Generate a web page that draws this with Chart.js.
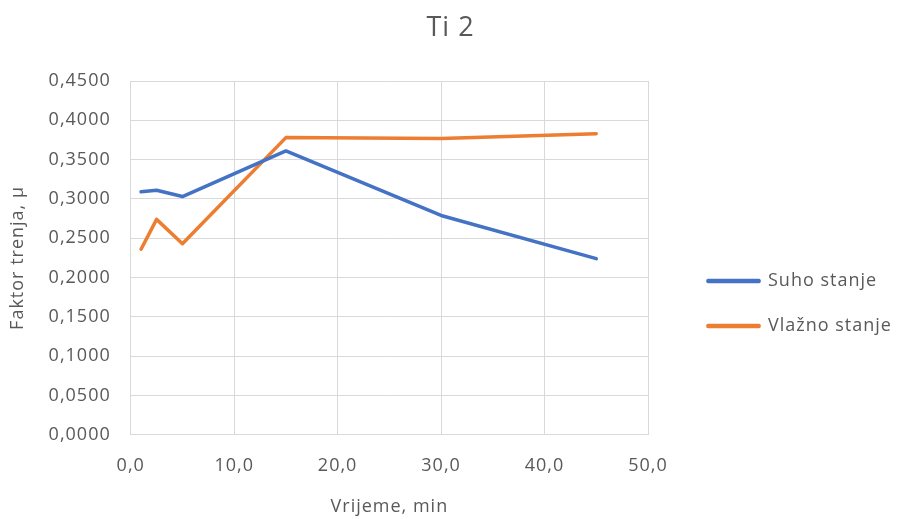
<!DOCTYPE html>
<html>
<head>
<meta charset="utf-8">
<script src="https://cdn.jsdelivr.net/npm/chart.js@4/dist/chart.umd.min.js"></script>
<style>
  html, body { margin: 0; padding: 0; background: #fff; }
  #wrap { width: 899px; height: 519px; }
</style>
</head>
<body>
<div id="wrap"><canvas id="chart1"></canvas></div>
<script>
// vrijeme (min)
var vrijeme = [1, 2.5, 5, 15, 30, 45];
// faktor trenja
var suho = [0.309, 0.311, 0.303, 0.361, 0.279, 0.224];
var vlazno = [0.236, 0.274, 0.243, 0.378, 0.377, 0.383];
var seriesNames = ['Suho stanje', 'Vlažno stanje'];

function pts(ys) {
    return vrijeme.map(function (x, i) { return { x: x, y: ys[i] }; });
}
function comma(v, d) {
    return v.toFixed(d).replace('.', ',');
}

var grey = '#595959';
Chart.defaults.font.family = '"Open Sans", Lato, sans-serif';
Chart.defaults.color = grey;

// the excel picture is a bit stretched sideways
var spacing = {
    id: 'spacing',
    afterInit: function (chart) { chart.ctx.letterSpacing = '1px'; },
    beforeUpdate: function (chart) { chart.ctx.letterSpacing = '1px'; },
    beforeDraw: function (chart) { chart.ctx.letterSpacing = '1px'; }
};

// legend sits right of the plot, lower than centre
var legendPlace = {
    id: 'legendPlace',
    beforeUpdate: function (chart) {
        var lg = chart.legend;
        if (!lg || lg._placed) return;
        lg._placed = true;
        var fit = lg.fit, draw = lg.draw;
        lg.fit = function () { fit.call(this); if (!this.isHorizontal()) this.width = 251; };
        lg.draw = function () {
            this.left += 33; this.top += 44; this.bottom += 44;
            draw.call(this);
            this.left -= 33; this.top -= 44; this.bottom -= 44;
        };
    }
};

new Chart(document.getElementById('chart1'), {
    type: 'line',
    data: {
        datasets: [
            { label: seriesNames[0], data: pts(suho), borderColor: '#4472c4', backgroundColor: '#4472c4',
              borderWidth: 3.5, pointRadius: 0, tension: 0, borderJoinStyle: 'round', borderCapStyle: 'round' },
            { label: seriesNames[1], data: pts(vlazno), borderColor: '#ed7d31', backgroundColor: '#ed7d31',
              borderWidth: 3.5, pointRadius: 0, tension: 0, borderJoinStyle: 'round', borderCapStyle: 'round' }
        ]
    },
    plugins: [spacing, legendPlace],
    options: {
        responsive: true,
        maintainAspectRatio: false,
        animation: false,
        layout: { padding: { top: 0, left: 2, right: 0, bottom: 0 } },
        plugins: {
            title: {
                display: true, text: 'Ti 2', color: grey,
                font: { size: 27, weight: 'normal' },
                padding: { top: 12, bottom: 36.6 }
            },
            legend: {
                position: 'right',
                labels: {
                    boxWidth: 51, boxHeight: 1, padding: 27,
                    font: { size: 18 }, color: grey
                }
            },
            tooltip: { enabled: false }
        },
        scales: {
            x: {
                type: 'linear', min: 0, max: 50,
                ticks: { stepSize: 10, font: { size: 18 }, padding: 20,
                         callback: function (v) { return comma(v, 1); } },
                grid: { color: '#d9d9d9', drawTicks: false },
                border: { color: '#d9d9d9' },
                title: { display: true, text: 'Vrijeme, min', font: { size: 18 }, padding: { top: 0, bottom: 1 } }
            },
            y: {
                min: 0, max: 0.45,
                ticks: { stepSize: 0.05, font: { size: 18 }, padding: 20,
                         callback: function (v) { return comma(v, 4); } },
                grid: { color: '#d9d9d9', drawTicks: false },
                border: { color: '#d9d9d9' },
                title: { display: true, text: 'Faktor trenja, μ', font: { size: 18 }, padding: { top: 5, bottom: 0 } }
            }
        }
    }
});
</script>
</body>
</html>
